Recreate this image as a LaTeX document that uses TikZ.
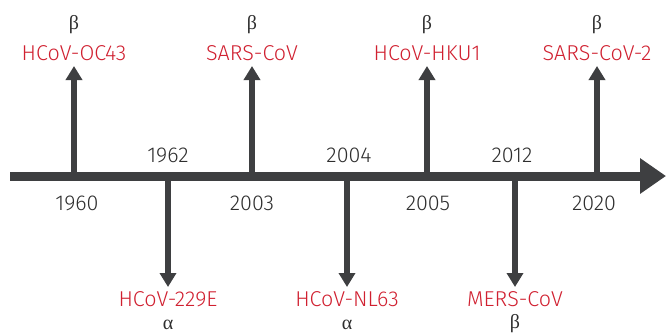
\documentclass[tikz,border=0pt]{standalone}
\usepackage{fontspec}
\setmainfont{Fira Sans Light}
\newfontfamily\grkfont{Liberation Serif}
\usetikzlibrary{arrows.meta}
\definecolor{axisgray}{HTML}{3E3F41}
\definecolor{virred}{HTML}{D02030}
\definecolor{txtgray}{HTML}{2E2E2E}
\tikzset{
  axisline/.style={draw=axisgray,line width=9pt,-{Triangle[length=26pt,width=34pt]}},
  branch/.style={draw=axisgray,line width=5.5pt,-{Triangle[length=14pt,width=16pt]}},
  virus/.style={text=virred,font=\fontsize{21.5}{21.5}\selectfont,inner sep=0pt,text height=15pt,text depth=0pt},
  genus/.style={text=txtgray,font=\grkfont\fontsize{20}{20}\selectfont,inner sep=0pt,text height=10pt,text depth=2pt},
  yearlbl/.style={text=txtgray,font=\fontsize{21.5}{21.5}\selectfont,inner sep=0pt}
}
\begin{document}
\begin{tikzpicture}[x=1pt,y=-1pt]
\useasboundingbox (0,0) rectangle (666,333);
% axis
\coordinate (axL) at (10,176);
\coordinate (axR) at (666,176);
\draw[axisline] (axL) -- (axR);
% up branches
\coordinate (u1) at (74,176);
\coordinate (u2) at (252,176);
\coordinate (u3) at (427,176);
\coordinate (u4) at (597,176);
\coordinate (u1t) at (74,66);
\coordinate (u2t) at (252,66);
\coordinate (u3t) at (427,66);
\coordinate (u4t) at (597,66);
\draw[branch] (u1) -- (u1t);
\draw[branch] (u2) -- (u2t);
\draw[branch] (u3) -- (u3t);
\draw[branch] (u4) -- (u4t);
% down branches
\coordinate (d1) at (168,176);
\coordinate (d2) at (347,176);
\coordinate (d3) at (515,176);
\coordinate (d1t) at (168,287);
\coordinate (d2t) at (347,287);
\coordinate (d3t) at (515,287);
\draw[branch] (d1) -- (d1t);
\draw[branch] (d2) -- (d2t);
\draw[branch] (d3) -- (d3t);
% virus labels above
\node[virus] (v1) at (74,53) {HCoV-OC43};
\node[virus] (v2) at (252,53) {SARS-CoV};
\node[virus] (v3) at (427,53) {HCoV-HKU1};
\node[virus] (v4) at (597,53) {SARS-CoV-2};
\node[genus] (g1) at (74,25) {β};
\node[genus] (g2) at (252,25) {β};
\node[genus] (g3) at (427,25) {β};
\node[genus] (g4) at (597,25) {β};
% virus labels below
\node[virus] (v5) at (168,299) {HCoV-229E};
\node[virus] (v6) at (347,299) {HCoV-NL63};
\node[virus] (v7) at (515,299) {MERS-CoV};
\node[genus] (g5) at (168,325) {α};
\node[genus] (g6) at (347,325) {α};
\node[genus] (g7) at (515,324) {β};
% years
\node[yearlbl] (y1962) at (168,155) {1962};
\node[yearlbl] (y2004) at (349,155) {2004};
\node[yearlbl] (y2012) at (512,155) {2012};
\node[yearlbl] (y1960) at (77,203) {1960};
\node[yearlbl] (y2003) at (252,203) {2003};
\node[yearlbl] (y2005) at (428,203) {2005};
\node[yearlbl] (y2020) at (594,203) {2020};
\end{tikzpicture}
\end{document}
